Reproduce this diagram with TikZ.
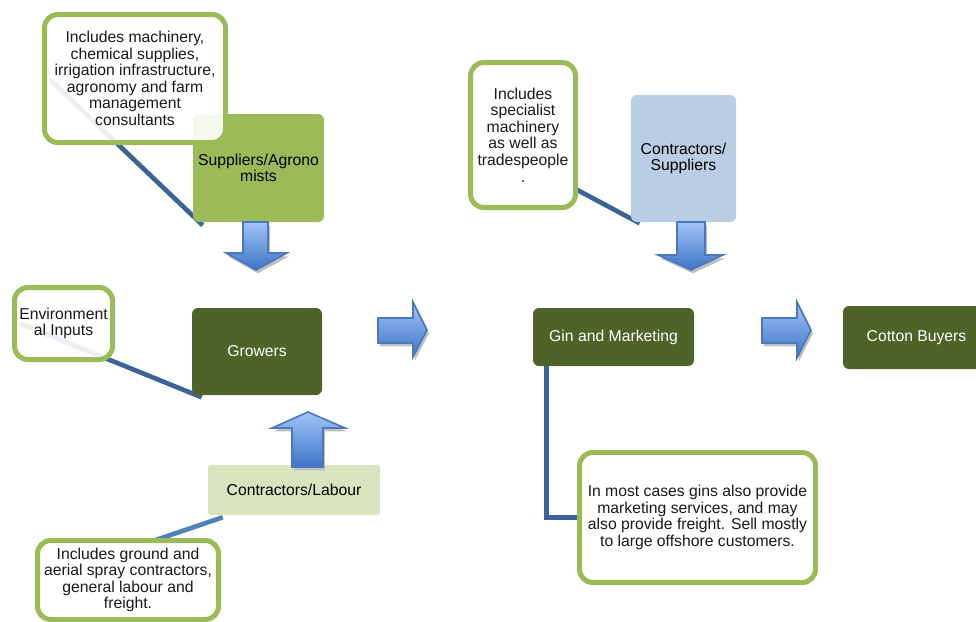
\documentclass[tikz,border=0pt]{standalone}
\usepackage{fontspec}
\setmainfont{Liberation Sans}
\usetikzlibrary{shadows,backgrounds}
\definecolor{oliveD}{RGB}{79,98,40}
\definecolor{greenM}{RGB}{155,187,89}
\definecolor{greenL}{RGB}{215,228,189}
\definecolor{blueL}{RGB}{185,205,229}
\definecolor{linkD}{RGB}{59,100,150}
\definecolor{linkL}{RGB}{79,129,189}
\definecolor{arrTop}{RGB}{160,196,250}
\definecolor{arrBot}{RGB}{62,116,196}
\definecolor{arrEdge}{RGB}{74,120,186}
\newlength\pxu \setlength\pxu{0.75pt}
\tikzset{
  box/.style={rounded corners=4.5pt, inner sep=2pt, align=center, font=\fontsize{11.8}{12.4}\selectfont},
  stage/.style={box, fill=oliveD, text=white},
  note/.style={box, draw=greenM, line width=3.75pt, fill=white, rounded corners=10pt, text=black!90},
  link/.style={linkD, line width=3.5pt},
  blk/.style={top color=arrTop, bottom color=arrBot, draw=arrEdge, line width=1.2pt,
    drop shadow={shadow xshift=1.5pt, shadow yshift=-2.5pt, fill=black!25, opacity=1}},
}

\begin{document}
\begin{tikzpicture}[x=0.75pt, y=-0.75pt]
 \useasboundingbox (0,0) rectangle (976,622);
 \clip (0,0) rectangle (976,622);

 % stages
 \node[box, fill=greenM, minimum width=131\pxu, minimum height=108\pxu] (supl) at (258.5,168) {Suppliers/Agrono\\mists};
 \node[stage, minimum width=130\pxu, minimum height=87\pxu] (grow) at (257,351.5) {Growers};
 \node[box, fill=greenL, rounded corners=2pt, minimum width=172\pxu, minimum height=50\pxu] (labr) at (294,490) {Contractors/Labour};
 \node[box, fill=blueL, minimum width=105\pxu, minimum height=127\pxu] (cons) at (683.5,158.5) {Contractors/\\Suppliers};
 \node[stage, minimum width=161\pxu, minimum height=58\pxu] (gin) at (613.5,337) {Gin and Marketing};
 \node[stage, minimum width=147\pxu, minimum height=63\pxu] (buy) at (916.5,337.5) {Cotton Buyers};

 % notes
 \node[note, fill opacity=0.9, text opacity=1, minimum width=181\pxu, minimum height=128\pxu] (callA) at (135,78.5)
   {Includes machinery,\\chemical supplies,\\irrigation infrastructure,\\agronomy and farm\\management\\consultants};
 \node[note, fill opacity=0.9, text opacity=1, minimum width=98\pxu, minimum height=72\pxu] (env) at (63.5,323.5)
   {Environment\\al Inputs};
 \node[note, minimum width=181\pxu, minimum height=79\pxu] (callB) at (128,580)
   {Includes ground and\\aerial spray contractors,\\general labour and\\freight.};
 \node[note, minimum width=105\pxu, minimum height=145\pxu] (callC) at (523,135)
   {Includes\\specialist\\machinery\\as well as\\tradespeople\\.};
 \node[note, minimum width=236\pxu, minimum height=130\pxu] (callD) at (697.5,517.5)
   {In most cases gins also provide\\marketing services, and may\\also provide freight. Sell mostly\\to large offshore customers.};

 % callout lines
 \begin{pgfonlayer}{background}
  \draw[link] ([shift={(10,3)}]supl.south west) -- ([shift={(8,1)}]callA.west);
  \draw[link] ([shift={(10,2)}]grow.south west) -- ([shift={(8,0)}]env.west);
  \draw[link, linkL] ([shift={(15,2)}]labr.south west) -- ([shift={(12,-3)}]callB.west);
  \draw[link] ([shift={(9,1)}]cons.south west) -- ([shift={(10,2)}]callC.west);
  \draw[link] ([xshift=14\pxu]gin.south west) |- ([xshift=6\pxu]callD.west);
 \end{pgfonlayer}

 % block arrows
 \path[blk] (243,222) -- (268,222) -- (268,253) -- (287,253) -- (256,270) -- (226,253) -- (243,253) -- cycle;
 \path[blk] (378,318) -- (413,318) -- (413,302) -- (427,330) -- (413,357) -- (413,343) -- (378,343) -- cycle;
 \path[blk] (292,467) -- (292,428) -- (272,428) -- (308,412) -- (345,428) -- (323,428) -- (323,467) -- cycle;
 \path[blk] (677,222) -- (705,222) -- (705,255) -- (723,255) -- (691,270) -- (658,255) -- (677,255) -- cycle;
 \path[blk] (762,318) -- (797,318) -- (797,302) -- (811,330) -- (797,358) -- (797,343) -- (762,343) -- cycle;
\end{tikzpicture}
\end{document}
